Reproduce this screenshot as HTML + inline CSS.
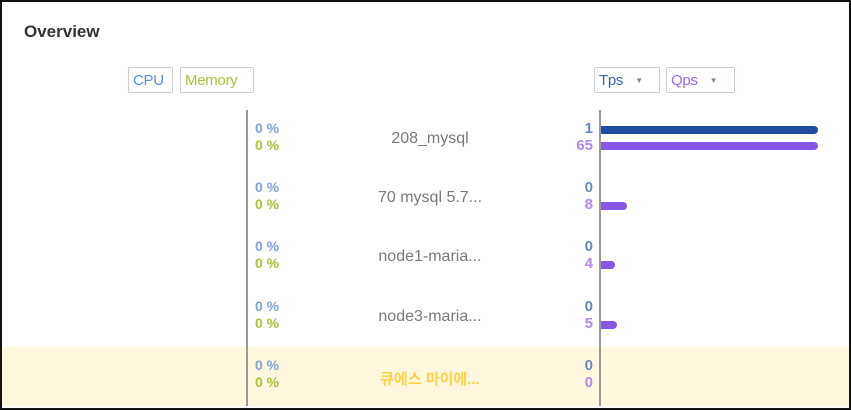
<!DOCTYPE html>
<html><head><meta charset="utf-8"><style>
body{margin:0;width:851px;height:411px;overflow:hidden;background:#fff;font-family:"Liberation Sans","Noto Sans CJK KR",sans-serif;}
#f{position:absolute;left:0;top:0;width:847px;height:406px;border:2px solid #111;}
.a{position:absolute;}
.btn{position:absolute;height:26px;border:1px solid #ccd;border-radius:2px;font-size:15px;line-height:25px;box-sizing:border-box;padding:0 4px;background:#fff;letter-spacing:-0.3px}
.p{position:absolute;left:255px;font-size:14px;font-weight:bold;line-height:17px}
.nm{position:absolute;left:330px;width:200px;text-align:center;font-size:16px;color:#7a7a7a}
.n{position:absolute;right:258px;font-size:15px;font-weight:bold;line-height:17px;text-align:right}
.bar{position:absolute;left:601px;height:8px;border-radius:0 4px 4px 0}
.tri{font-size:8px;color:#888;margin-left:12px;vertical-align:2px}
</style></head><body>
<div id="f"></div>
<div class="a" style="left:24px;top:22px;font-size:17px;font-weight:bold;color:#333">Overview</div>
<div class="btn" style="left:128px;top:67px;width:45px;color:#5b8ee0">CPU</div>
<div class="btn" style="left:180px;top:67px;width:74px;color:#a8c33a">Memory</div>
<div class="btn" style="left:594px;top:67px;width:66px;color:#3a62b5">Tps<span class="tri">▼</span></div>
<div class="btn" style="left:666px;top:67px;width:69px;color:#9a6ae8">Qps<span class="tri">▼</span></div>
<div class="a" style="left:2px;top:347px;width:847px;height:59px;background:#fff7de"></div>
<div class="a" style="left:246px;top:110px;width:2px;height:296px;background:#999"></div>
<div class="a" style="left:599px;top:110px;width:2px;height:296px;background:#999"></div>

<div class="p" style="top:120px;color:#7fa2e0">0 %</div><div class="p" style="top:137px;color:#a8c33a">0 %</div>
<div class="p" style="top:179px;color:#7fa2e0">0 %</div><div class="p" style="top:196px;color:#a8c33a">0 %</div>
<div class="p" style="top:238px;color:#7fa2e0">0 %</div><div class="p" style="top:255px;color:#a8c33a">0 %</div>
<div class="p" style="top:298px;color:#7fa2e0">0 %</div><div class="p" style="top:315px;color:#a8c33a">0 %</div>
<div class="p" style="top:357px;color:#7fa2e0">0 %</div><div class="p" style="top:374px;color:#a8c33a">0 %</div>

<div class="nm" style="top:130px">208_mysql</div>
<div class="nm" style="top:189px">70 mysql 5.7...</div>
<div class="nm" style="top:248px">node1-maria...</div>
<div class="nm" style="top:308px">node3-maria...</div>
<div class="nm" style="top:368px;color:#ffd24a;font-weight:bold;font-size:15px">큐에스 마이에...</div>

<div class="n" style="top:120px;color:#6a86c0">1</div><div class="n" style="top:137px;color:#b28af0">65</div>
<div class="n" style="top:179px;color:#6a86c0">0</div><div class="n" style="top:196px;color:#b28af0">8</div>
<div class="n" style="top:238px;color:#6a86c0">0</div><div class="n" style="top:255px;color:#b28af0">4</div>
<div class="n" style="top:298px;color:#6a86c0">0</div><div class="n" style="top:315px;color:#b28af0">5</div>
<div class="n" style="top:357px;color:#6a86c0">0</div><div class="n" style="top:374px;color:#b28af0">0</div>

<div class="bar" style="top:126px;width:217px;background:#1f4ba5"></div>
<div class="bar" style="top:142px;width:217px;background:#8656e6"></div>
<div class="bar" style="top:202px;width:26px;background:#8656e6"></div>
<div class="bar" style="top:261px;width:14px;background:#8656e6"></div>
<div class="bar" style="top:321px;width:16px;background:#8656e6"></div>
</body></html>
